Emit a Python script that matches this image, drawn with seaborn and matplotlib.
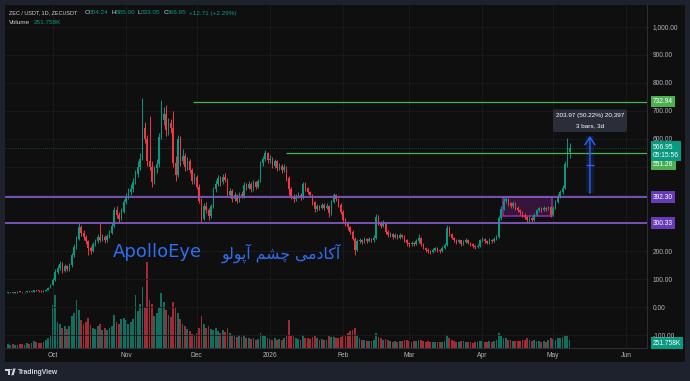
import numpy as np
import pandas as pd
import matplotlib
matplotlib.use("Agg")
import matplotlib.pyplot as plt
import seaborn as sns
from matplotlib.patches import Rectangle, FancyBboxPatch, Polygon, Circle

# ---------------- data (daily ZEC/USDT candles) ----------------
opens = [52,53,54,52,53,55,54,53,54,55,
 54,56,60,59,58,57,59,62,70,80,
 98,125,140,155,130,148,135,150,185,215,
 245,285,265,250,235,210,200,225,235,250,
 240,250,238,255,265,290,345,330,315,340,
 375,395,410,420,445,475,500,530,640,600,
 520,500,445,495,510,605,667,690,630,655,
 640,513,470,600,520,540,500,520,490,450,
 465,430,380,315,360,345,325,360,420,440,
 460,445,465,455,400,415,385,400,380,405,
 395,435,425,440,420,445,430,450,515,530,
 550,525,530,505,520,495,505,490,500,460,
 420,395,385,395,400,390,440,425,410,400,
 375,350,360,355,365,355,362,335,375,400,
 385,365,340,310,300,285,270,245,205,235,
 240,232,242,236,244,238,248,320,300,290,
 300,268,258,262,250,256,248,258,252,240,
 228,224,230,226,235,248,225,212,205,200,
 196,205,210,204,200,212,222,284,262,248,
 240,232,238,226,232,240,230,225,218,214,
 220,238,244,236,230,240,236,245,252,318,
 350,378,385,370,360,370,355,345,338,330,
 322,310,318,312,330,345,352,346,354,350,
 356,328,355,375,395,410,425,510,554.24]

closes = [53,54,52,53,55,54,53,54,55,54,
 56,60,59,58,57,59,62,70,80,98,
 125,140,155,130,148,135,150,185,215,245,
 285,265,250,235,210,200,225,235,250,240,
 250,238,255,265,290,345,330,315,340,375,
 395,410,420,445,475,500,530,640,600,520,
 500,445,495,510,605,667,690,630,655,640,
 513,470,600,520,540,500,520,490,450,465,
 430,380,315,360,345,325,360,420,440,460,
 445,465,455,400,415,385,400,380,405,395,
 435,425,440,420,445,430,450,515,530,550,
 525,530,505,520,495,505,490,500,460,420,
 395,385,395,400,390,440,425,410,400,375,
 350,360,355,365,355,362,335,375,400,385,
 365,340,310,300,285,270,245,205,235,240,
 232,242,236,244,238,248,320,300,290,300,
 268,258,262,250,256,248,258,252,240,228,
 224,230,226,235,248,225,212,205,200,196,
 205,210,204,200,212,222,284,262,248,240,
 232,238,226,232,240,230,225,218,214,220,
 238,244,236,230,240,236,245,252,318,350,
 378,385,370,360,370,355,345,338,330,322,
 310,318,312,330,345,352,346,354,350,356,
 328,355,375,395,410,425,510,554.24,566.95]

highs = [55,56,55,55,57,57,56,56,57,57,
 58,63,62,61,60,61,65,73,84,105,
 135,150,165,160,155,152,158,195,225,255,
 300,292,275,258,240,218,232,245,260,304,
 262,256,262,275,300,358,360,338,352,385,
 408,425,438,460,490,520,550,745,660,615,
 680,520,505,530,620,738,715,720,675,670,
 700,540,615,610,565,550,535,528,498,480,
 472,438,388,372,375,352,368,430,455,470,
 468,475,478,460,425,420,410,405,412,415,
 445,442,450,446,452,450,458,522,540,560,
 555,542,535,530,525,515,512,510,505,468,
 428,402,405,410,408,448,445,430,415,405,
 380,368,366,372,370,370,366,382,408,405,
 390,370,345,318,306,290,275,250,242,248,
 245,250,248,252,248,256,333,328,308,310,
 304,274,270,266,263,260,265,262,256,244,
 234,236,234,242,260,252,228,216,210,204,
 210,216,214,208,218,228,292,288,266,252,
 244,244,241,238,246,243,234,228,222,226,
 244,250,248,240,246,244,250,258,325,362,
 388,392,390,375,378,374,360,350,342,335,
 326,324,322,336,350,358,356,360,358,362,
 360,362,382,402,418,435,520,603,585]

lows = [51,52,51,51,52,53,52,52,53,53,
 53,55,57,56,55,56,58,61,68,78,
 95,118,132,122,125,128,130,145,178,208,
 240,255,240,225,186,190,196,218,228,232,
 235,230,233,248,260,285,318,305,310,335,
 368,385,400,412,438,465,490,525,585,505,
 490,430,440,480,500,598,650,610,615,620,
 500,450,465,505,510,485,490,478,440,440,
 420,372,305,310,335,310,318,355,412,432,
 432,440,445,392,392,375,378,370,375,388,
 390,418,420,412,415,422,425,445,505,522,
 515,515,495,498,485,488,480,482,450,400,
 385,375,378,388,382,386,415,402,392,365,
 340,344,348,350,348,350,320,330,370,378,
 358,332,302,290,276,260,238,187,200,228,
 225,228,230,232,232,234,245,292,282,285,
 262,250,252,244,246,242,244,246,234,220,
 216,218,220,222,230,220,206,198,193,190,
 192,200,198,194,196,208,218,255,242,234,
 226,228,220,222,228,225,220,212,208,210,
 216,232,230,225,226,230,232,240,248,312,
 345,370,362,352,355,348,338,330,322,314,
 302,304,305,308,326,340,340,342,344,346,
 320,325,350,370,390,405,420,500,533.05]

volumes_k = [120,95,130,110,100,140,125,105,150,130,
 160,210,180,170,160,200,260,330,420,1360,
 1670,820,760,640,700,600,680,1000,1100,1510,
 1200,880,760,820,950,720,640,600,680,760,
 580,620,560,640,700,1050,820,760,900,950,
 880,760,820,900,1670,1150,1400,1920,1300,2710,
 1500,1380,1020,1100,1250,1730,1450,1200,1050,980,
 1450,1300,1100,900,760,700,600,520,450,400,
 480,620,1010,760,640,700,600,560,640,520,
 480,560,500,620,470,420,380,350,420,360,
 400,330,300,280,320,260,280,480,420,380,
 320,280,260,300,250,270,240,300,420,880,
 420,380,300,280,260,420,330,300,280,350,
 380,300,260,280,240,260,380,340,360,300,
 320,360,400,420,460,520,560,630,420,300,
 260,240,220,230,210,240,480,360,300,260,
 280,240,220,200,210,190,220,230,250,240,
 220,200,210,230,260,240,220,200,210,190,
 180,200,190,180,200,220,410,300,260,220,
 200,190,210,220,200,180,190,170,180,200,
 230,220,200,190,210,200,220,240,470,380,
 330,300,260,240,220,230,210,220,240,260,
 300,250,230,240,220,210,200,220,200,260,
 300,280,260,300,320,340,400,380,251.758]

month_labels = ["Oct", "Nov", "Dec", "2026", "Feb", "Mar", "Apr", "May", "Jun"]
month_days = [19, 50, 80, 111, 142, 170, 201, 231, 262]
price_ticks = [-100, 0, 100, 200, 300, 400, 500, 600, 700, 800, 900, 1000]
price_labels_shown = [-100, 0, 100, 200, 600, 700, 800, 900, 1000]

green_levels = [732.94, 551.26]
green_start_days = [78.4, 117.8]
purple_levels = [392.30, 300.33]
box_days = [209.7, 230.5]
box_prices = [326.0, 392.30]
measure_days = [244.9, 248.3]
measure_prices = [406.17, 610.14]
measure_text = ["203.97 (50.22%) 20,397", "3 bars, 3d"]
countdown = "05:15:56"
symbol_text = "ZEC / USDT, 1D, ZECUSDT"
watermark_en = "ApolloEye"
# "آکادمی چشم آپولو" written in Arabic presentation forms, visual order
watermark_fa = ("\uFEEE\uFEDF\uFEEE\uFB58\uFE81 \uFEE2\uFEB8\uFB7C "
                "\uFBFD\uFEE3\uFEA9\uFE8E\uFB90\uFE81")

# ---------------- style ----------------
sns.set_theme(style="dark")
plt.rcParams["font.family"] = ["Liberation Sans", "DejaVu Sans"]

BG = "#0f0f0f"
FRAME = "#1e222d"
UP = "#089981"
DN = "#f23645"
VOL_UP = "#136e60"
VOL_DN = "#9e2b36"
GRID = "#1b1b1b"
TXT = "#d1d4dc"
AXT = "#b2b5be"
GREEN = "#4caf50"
PURPLE = "#7e57c2"
PURPLE_BOX = "#673ab7"
BLUE = "#2962ff"
WM = "#2f6ef0"
FS = 4.8

n = len(closes)
df = pd.DataFrame(dict(day=np.arange(n), open=opens, high=highs, low=lows,
                       close=closes, volume=volumes_k))
df["dir"] = np.where(df["close"] >= df["open"], "up", "down")

W, H = 690, 381
fig = plt.figure(figsize=(W / 100, H / 100), dpi=100)
fig.patch.set_facecolor(FRAME)
fig.add_artist(Rectangle((4.5 / W, 1 - 362 / H), 680.5 / W, 357.5 / H,
                         transform=fig.transFigure, fc=BG, ec="none", zorder=-5))

rect = [5 / W, 1 - 348 / H, 642 / W, 343 / H]
axv = fig.add_axes(rect)
ax = fig.add_axes(rect, sharex=axv)
axv.set_facecolor(BG)
ax.patch.set_visible(False)

# volume pane
sns.barplot(data=df, x="day", y="volume", hue="dir",
            palette={"up": VOL_UP, "down": VOL_DN}, native_scale=True,
            dodge=False, width=0.75, saturation=1, errorbar=None,
            legend=False, linewidth=0, ax=axv)
axv.set_ylim(0, 343 * 31.5)
axv.set_xlabel("")
axv.set_ylabel("")
axv.tick_params(left=False, labelleft=False, bottom=False, labelbottom=False,
                right=False, labelright=False)
for s in axv.spines.values():
    s.set_visible(False)

XMAX = 270.8
ax.set_xlim(-1.27, XMAX)
ax.set_ylim(-145, 1077)

# grid
ax.set_yticks(price_ticks)
ax.set_yticklabels([f"{v:,.2f}" if v in price_labels_shown else "" for v in price_ticks])
ax.set_xticks(month_days)
ax.set_xticklabels(month_labels)
ax.grid(True, color=GRID, lw=0.6)
ax.set_axisbelow(True)
ax.yaxis.tick_right()
ax.tick_params(axis="y", length=0, pad=4.3, labelsize=FS, labelcolor=AXT)
ax.tick_params(axis="x", length=0, pad=3.2, labelsize=FS, labelcolor=AXT)
for side in ["top", "left"]:
    ax.spines[side].set_visible(False)
for side in ["right", "bottom"]:
    ax.spines[side].set_color("#2a2e39")
    ax.spines[side].set_linewidth(0.8)

# candles
col = np.where(df["dir"] == "up", UP, DN)
ax.vlines(df["day"], df["low"], df["high"], colors=col, lw=0.7, zorder=3)
body_lo = np.minimum(df["open"], df["close"])
body_h = np.maximum(np.abs(df["close"] - df["open"]), 2.5)
ax.bar(df["day"], body_h, bottom=body_lo, width=0.62, color=col, lw=0, zorder=4)

# current price line
ax.axhline(closes[-1], color=UP, lw=0.6, ls=(0, (1, 1.5)), alpha=0.55, zorder=2)

# drawings
for lvl, st in zip(green_levels, green_start_days):
    ax.hlines(lvl, st, XMAX, color=GREEN, lw=0.9, zorder=5)
for lvl in purple_levels:
    ax.axhline(lvl, color=PURPLE, lw=1.3, zorder=5)
ax.add_patch(Rectangle((box_days[0], box_prices[0]), box_days[1] - box_days[0],
                       box_prices[1] - box_prices[0], fc=(0.61, 0.15, 0.69, 0.28),
                       ec="#9c27b0", lw=1.1, zorder=2.5))

# measurement
ax.add_patch(Rectangle((measure_days[0], measure_prices[0]), measure_days[1] - measure_days[0],
                       measure_prices[1] - measure_prices[0], fc=(0.16, 0.38, 1, 0.15),
                       ec="none", zorder=5))
mid_x = (measure_days[0] + measure_days[1]) / 2
ax.annotate("", xy=(mid_x, measure_prices[1]), xytext=(mid_x, measure_prices[0]),
            arrowprops=dict(arrowstyle="->,head_length=0.45,head_width=0.3", color=BLUE,
                            lw=1.0, shrinkA=0, shrinkB=0), zorder=6)
ax.hlines((measure_prices[0] + measure_prices[1]) / 2, measure_days[0], measure_days[1],
          color=BLUE, lw=0.9, zorder=6)


def px(x, y):
    return x / W, 1 - y / H


fig.add_artist(FancyBboxPatch(px(553, 132), 74 / W, 22.5 / H, transform=fig.transFigure,
                              boxstyle="round,pad=0,rounding_size=0.004", fc="#2a2e39",
                              ec="none", zorder=20))
fig.text(*px(590, 115.5), measure_text[0], color="white", fontsize=4.6, ha="center",
         va="center", zorder=21)
fig.text(*px(590, 125.5), measure_text[1], color="white", fontsize=4.6, ha="center",
         va="center", zorder=21)


# price labels on the right scale
def price_label(axis, val, text, fc, tc="white", va="center", dy=0):
    axis.annotate(text, xy=(1, val), xycoords=("axes fraction", "data"),
                  xytext=(4.2, dy), textcoords="offset points", ha="left", va=va,
                  fontsize=FS, color=tc, linespacing=1.25,
                  bbox=dict(boxstyle="square,pad=0.35", fc=fc, ec="none"),
                  annotation_clip=False, zorder=10)


price_label(ax, green_levels[0], f"{green_levels[0]:.2f}", GREEN)
price_label(ax, green_levels[1], f"{green_levels[1]:.2f}", GREEN, dy=-8.6)
price_label(ax, closes[-1], f"{closes[-1]:.2f}\n{countdown}", UP, va="top", dy=3.3)
for lvl in purple_levels:
    price_label(ax, lvl, f"{lvl:.2f}", PURPLE_BOX)
price_label(axv, volumes_k[-1], f"{volumes_k[-1]:.3f}K", UP, dy=-2.2)

# header legend
chg = closes[-1] - closes[-2]
pct = chg / closes[-2] * 100
fig.text(*px(9, 13), symbol_text, color=TXT, fontsize=4.0, va="center")
for lab, val, x0 in [("O", opens[-1], 85), ("H", highs[-1], 111.7),
                     ("L", lows[-1], 137.3), ("C", closes[-1], 163.3)]:
    fig.text(*px(x0, 13), lab, color=TXT, fontsize=4.6, va="center")
    fig.text(*px(x0 + 3.9, 13), f"{val:.2f}", color=UP, fontsize=4.6, va="center")
fig.text(*px(189.3, 13), f"{chg:+.2f} ({pct:+.2f}%)", color=UP, fontsize=4.6, va="center")
fig.text(*px(9, 22), "Volume", color=TXT, fontsize=4.6, va="center")
fig.text(*px(33.3, 22), f"{volumes_k[-1]:.3f}K", color=UP, fontsize=4.6, va="center")

# watermarks
fig.text(*px(112.7, 257.3), watermark_en, color=WM, fontsize=13, family="DejaVu Sans",
         va="baseline", ha="left", zorder=8)
fig.text(*px(222, 259), watermark_fa, color=WM, fontsize=11.3, family="DejaVu Sans",
         va="baseline", ha="left", zorder=8)

# footer logo + name
logo_T = Polygon([px(5.3, 368.5), px(10, 368.5), px(10, 375.3), px(7.9, 375.3),
                  px(7.9, 370.7), px(5.3, 370.7)], closed=True, transform=fig.transFigure,
                 fc=TXT, ec="none")
logo_V = Polygon([px(11.3, 375.3), px(13.6, 375.3), px(15.6, 368.5), px(13.3, 368.5)],
                 closed=True, transform=fig.transFigure, fc=TXT, ec="none")
fig.add_artist(logo_T)
fig.add_artist(logo_V)
fig.add_artist(Circle(px(11.2, 369.6), 1.0 / W, transform=fig.transFigure, fc=TXT, ec="none"))
fig.text(*px(17.6, 372), "TradingView", color=TXT, fontsize=4.9, va="center",
         fontweight="bold")

fig.savefig("out.png", dpi=100, facecolor=FRAME)
